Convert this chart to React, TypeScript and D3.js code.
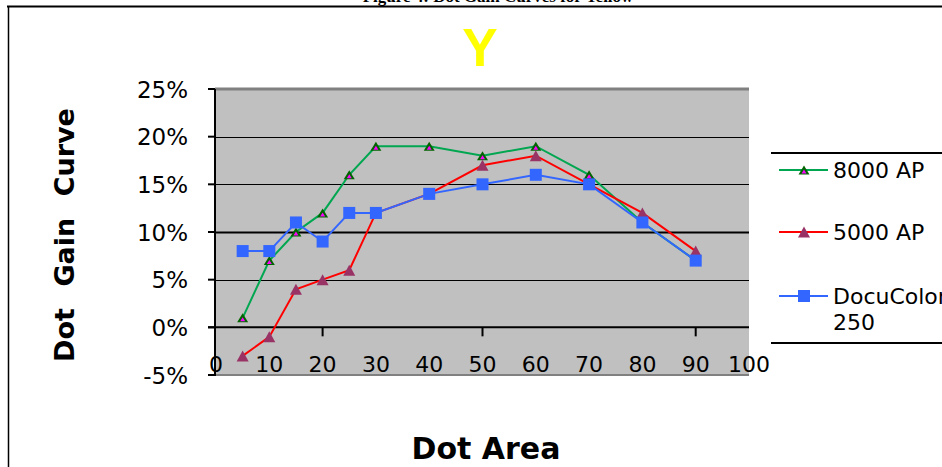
import React from "react";
import * as d3 from "d3";

const xValues = [5, 10, 15, 20, 25, 30, 40, 50, 60, 70, 80, 90];
const series8000 = [1, 7, 10, 12, 16, 19, 19, 18, 19, 16, 11, 7];
const series5000 = [-3, -1, 4, 5, 6, 12, 14, 17, 18, 15, 12, 8];
const seriesDocu = [8, 8, 11, 9, 12, 12, 14, 15, 16, 15, 11, 7];
const yTicks = [-5, 0, 5, 10, 15, 20, 25];
const xTickLabels = [0, 10, 20, 30, 40, 50, 60, 70, 80, 90, 100];
const xTickMarks = [20, 50, 90];
const seriesNames = ["8000 AP", "5000 AP", "DocuColor 250"];

const W = 942;
const H = 467;

export default function App() {
  const x = d3.scaleLinear().domain([0, 100]).range([216, 749]);
  const y = d3.scaleLinear().domain([-5, 25]).range([375, 89]);
  const line = d3
    .line<number>()
    .x((_, i) => x(xValues[i]))
    .y((d) => y(d));

  const tri = (cx: number, cy: number, w: number, h: number) =>
    `M${cx - w / 2},${cy + h / 2}L${cx},${cy - h / 2}L${cx + w / 2},${cy + h / 2}Z`;

  const font = "'DejaVu Sans', Verdana, sans-serif";

  const greenMarker = (cx: number, cy: number, k: string | number) => (
    <g key={k}>
      <path d={tri(cx, cy, 11, 9)} fill="#006400" />
      <path d={tri(cx, cy + 1.5, 5, 4)} fill="#FF00FF" />
    </g>
  );
  const redMarker = (cx: number, cy: number, k: string | number) => (
    <path key={k} d={tri(cx, cy, 12, 11)} fill="#993366" />
  );
  const blueMarker = (cx: number, cy: number, k: string | number) => (
    <rect key={k} x={cx - 6} y={cy - 6} width={12} height={12} fill="#3366FF" />
  );

  const legendRows = [
    { name: seriesNames[0], color: "#00A650", y: 170, marker: greenMarker },
    { name: seriesNames[1], color: "#FF0000", y: 232, marker: redMarker },
    { name: seriesNames[2], color: "#3366FF", y: 296, marker: blueMarker },
  ];

  return (
    <svg
      width={W}
      height={H}
      style={{ position: "absolute", left: 0, top: 0, background: "#fff" }}
    >
      {/* cut-off caption at top */}
      <text
        x={498}
        y={1.5}
        textAnchor="middle"
        fontFamily="'Liberation Serif', serif"
        fontWeight="bold"
        fontSize={17}
      >
        Figure 4: Dot Gain Curves for Yellow
      </text>
      {/* frame */}
      <line x1={7} x2={W} y1={6.5} y2={6.5} stroke="#000" strokeWidth={2} />
      <line x1={8.5} x2={8.5} y1={6} y2={H} stroke="#000" strokeWidth={1.5} />

      {/* title */}
      <text
        x={480}
        y={66}
        textAnchor="middle"
        fontFamily="'Liberation Sans', Arial, sans-serif"
        fontWeight="bold"
        fontSize={53}
        fill="#FFFF00"
      >
        Y
      </text>

      {/* plot area */}
      <rect x={215} y={89} width={749 - 215} height={375 - 89} fill="#C0C0C0" />
      <line x1={215} x2={749} y1={89} y2={89} stroke="#808080" strokeWidth={3} />
      <line x1={215} x2={749} y1={375} y2={375} stroke="#808080" strokeWidth={2} />

      {/* grid lines */}
      {yTicks
        .filter((t) => t > 0 && t < 25)
        .map((t) => (
          <line
            key={"g" + t}
            x1={215}
            x2={749}
            y1={Math.round(y(t)) + 0.5}
            y2={Math.round(y(t)) + 0.5}
            stroke="#000"
            strokeWidth={t === 10 ? 2 : 1}
          />
        ))}

      {/* x axis at 0% */}
      <line x1={208} x2={749} y1={y(0)} y2={y(0)} stroke="#000" strokeWidth={2} />
      {xTickMarks.map((t) => (
        <line
          key={"xt" + t}
          x1={x(t)}
          x2={x(t)}
          y1={y(0)}
          y2={y(0) + 9}
          stroke="#000"
          strokeWidth={2}
        />
      ))}

      {/* y axis */}
      <line x1={215} x2={215} y1={89} y2={376} stroke="#000" strokeWidth={2} />
      {yTicks.map((t) => (
        <line
          key={"yt" + t}
          x1={208}
          x2={215}
          y1={y(t)}
          y2={y(t)}
          stroke="#000"
          strokeWidth={2}
        />
      ))}
      {yTicks.map((t) => (
        <text
          key={"yl" + t}
          x={188}
          y={y(t) + 8.5}
          textAnchor="end"
          fontFamily={font}
          fontSize={23}
          fill="#000"
        >
          {t + "%"}
        </text>
      ))}

      {/* x tick labels */}
      {xTickLabels.map((t) => (
        <text
          key={"xl" + t}
          x={x(t)}
          y={371.5}
          textAnchor="middle"
          fontFamily={font}
          fontSize={22}
          fill="#000"
        >
          {t}
        </text>
      ))}

      {/* series */}
      <path d={line(series8000) || ""} fill="none" stroke="#00A650" strokeWidth={2} />
      {series8000.map((v, i) => greenMarker(x(xValues[i]), y(v), "m1" + i))}
      <path d={line(series5000) || ""} fill="none" stroke="#FF0000" strokeWidth={2} />
      {series5000.map((v, i) => redMarker(x(xValues[i]), y(v), "m2" + i))}
      <path d={line(seriesDocu) || ""} fill="none" stroke="#3366FF" strokeWidth={2} />
      {seriesDocu.map((v, i) => blueMarker(x(xValues[i]), y(v), "m3" + i))}

      {/* axis titles */}
      <text
        transform="translate(74,235) rotate(-90)"
        textAnchor="middle"
        fontFamily={font}
        fontWeight="bold"
        fontSize={27}
        wordSpacing={12}
        fill="#000"
      >
        Dot Gain Curve
      </text>
      <text
        x={486}
        y={459}
        textAnchor="middle"
        fontFamily={font}
        fontWeight="bold"
        fontSize={30}
        fill="#000"
      >
        Dot Area
      </text>

      {/* legend */}
      <line x1={771} x2={W} y1={153} y2={153} stroke="#000" strokeWidth={2} />
      <line x1={771} x2={W} y1={343} y2={343} stroke="#000" strokeWidth={2} />
      {legendRows.map((r, i) => {
        const words = r.name.split(" ");
        const wrap = r.name.startsWith("DocuColor");
        return (
          <g key={"lg" + i}>
            <line x1={779} x2={828} y1={r.y} y2={r.y} stroke={r.color} strokeWidth={2} />
            {r.marker(804, r.y, "lm" + i)}
            <text
              x={833}
              y={r.y + 8}
              fontFamily={font}
              fontSize={22}
              fill="#000"
            >
              {wrap ? words[0] : r.name}
            </text>
            {wrap && (
              <text x={833} y={r.y + 34} fontFamily={font} fontSize={22} fill="#000">
                {words.slice(1).join(" ")}
              </text>
            )}
          </g>
        );
      })}
    </svg>
  );
}
